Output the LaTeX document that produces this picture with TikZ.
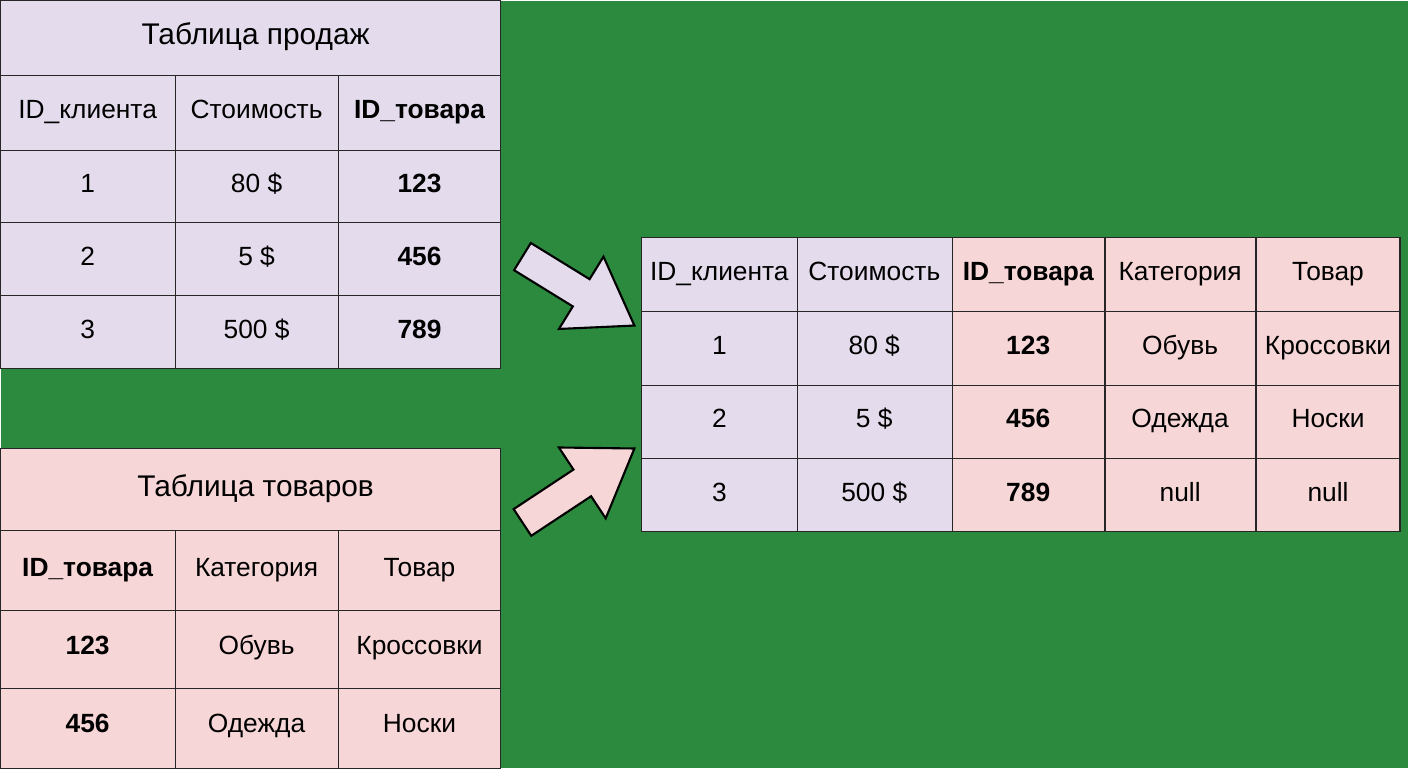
\documentclass[tikz,border=0pt]{standalone}
\usepackage{fontspec}
\setmainfont{Liberation Sans}
\usetikzlibrary{calc,positioning}
\definecolor{cBack}{HTML}{2B8A3E}
\definecolor{cLav}{HTML}{E4DCEC}
\definecolor{cPink}{HTML}{F6D6D6}
\tikzset{
  cell/.style={font=\fontsize{15}{17}\selectfont,text height=1.5ex,text depth=.3ex},
  bcell/.style={cell,font=\fontsize{15}{17}\bfseries},
  title/.style={font=\fontsize{17}{19}\selectfont,text height=1.5ex,text depth=.3ex},
  grid/.style={draw=black!85,line width=0.8pt}
}
\newcommand{\blockArrow}[3]{%
  \coordinate (bA) at #1; \coordinate (bT) at #2;
  \coordinate (bH) at ($(bT)!1.25cm!(bA)$);
  \draw[line width=1.2pt,fill=#3,line join=miter]
    ($(bA)!0.32cm!90:(bT)$) -- ($(bH)!0.32cm!-90:(bA)$) -- ($(bH)!0.85cm!-90:(bA)$)
    -- (bT) -- ($(bH)!0.85cm!90:(bA)$) -- ($(bH)!0.32cm!90:(bA)$)
    -- ($(bA)!0.32cm!-90:(bT)$) -- cycle;}
\begin{document}
\begin{tikzpicture}[x=0.02cm,y=-0.02cm]
  \fill[cBack] (0,0) rectangle (1408,768);
  % таблица продаж
  \fill[cLav] (0,0) rectangle (500,368);
  \draw[grid] (0,0) rectangle (500,368);
  \foreach \y in {75,150,222,295} \draw[grid] (0,\y) -- (500,\y);
  \foreach \x in {175,338} \draw[grid] (\x,75) -- (\x,368);
  \node[title] (tSales) at (255,38) {Таблица продаж};
  \foreach \y/\a/\b/\c in {112/ID\_клиента/Стоимость/ID\_товара,186/1/80 \$/123,259/2/5 \$/456,332/3/500 \$/789}{
    \node[cell] at (87,\y) {\a};
    \node[cell] at (256,\y) {\b};
    \node[bcell] at (419,\y) {\c};
  }
  % таблица товаров
  \fill[cPink] (0,448) rectangle (500,768);
  \draw[grid] (0,448) rectangle (500,768);
  \foreach \y in {530,610,688} \draw[grid] (0,\y) -- (500,\y);
  \foreach \x in {175,338} \draw[grid] (\x,530) -- (\x,768);
  \node[title] (tGoods) at (255,490) {Таблица товаров};
  \foreach \y/\a/\b/\c in {570/ID\_товара/Категория/Товар,649/123/Обувь/Кроссовки,727/456/Одежда/Носки}{
    \node[bcell] at (87,\y) {\a};
    \node[cell] at (256,\y) {\b};
    \node[cell] at (419,\y) {\c};
  }
  % результат
  \fill[cLav] (641,237) rectangle (952,531);
  \fill[cPink] (952,237) rectangle (1400,531);
  \draw[grid] (641,237) rectangle (1400,531);
  \foreach \y in {311,385,458} \draw[grid] (641,\y) -- (1400,\y);
  \foreach \x in {797,952,1105,1256} \draw[grid] (\x,237) -- (\x,531);
  \foreach \y/\a/\b/\c/\d/\e in {274/ID\_клиента/Стоимость/ID\_товара/Категория/Товар,
      348/1/80 \$/123/Обувь/Кроссовки,421/2/5 \$/456/Одежда/Носки,495/3/500 \$/789/null/null}{
    \node[cell] at (719,\y) {\a};
    \node[cell] at (874,\y) {\b};
    \node[bcell] at (1028,\y) {\c};
    \node[cell] at (1180,\y) {\d};
    \node[cell] at (1328,\y) {\e};
  }
  % стрелки
  \blockArrow{(522,256)}{(634,325)}{cLav}
  \blockArrow{(522,522)}{(634,448)}{cPink}
\end{tikzpicture}
\end{document}
